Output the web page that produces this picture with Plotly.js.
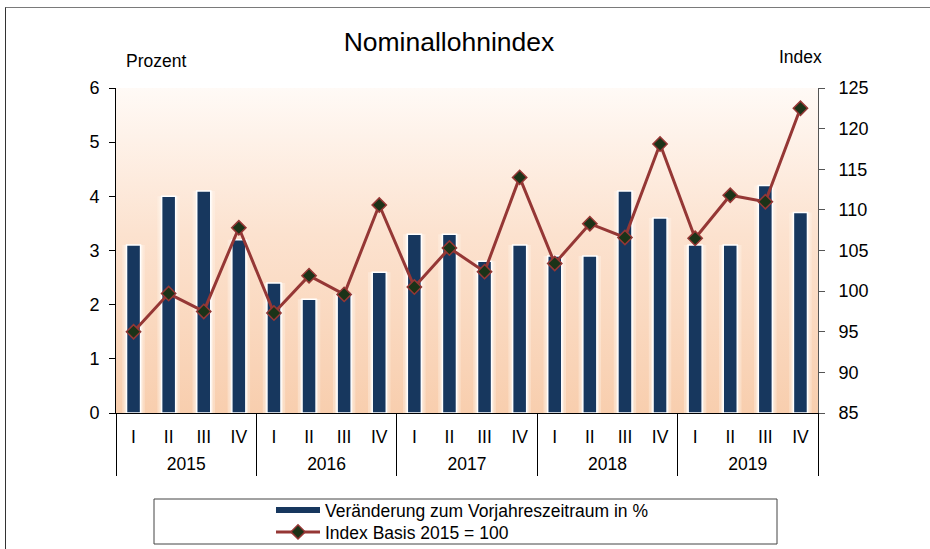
<!DOCTYPE html>
<html>
<head>
<meta charset="utf-8">
<script src="https://cdn.plot.ly/plotly-3.0.1.min.js"></script>
<style>
  html, body { margin: 0; padding: 0; background: #ffffff; overflow: hidden; }
  #wrap { position: relative; width: 930px; height: 549px; }
  #chart { position: absolute; left: 0; top: 0; width: 930px; height: 549px; }
  #frame { position: absolute; left: 5px; top: 7px; width: 1000px; height: 700px;
           border-top: 1.5px solid #7a7a7a; border-left: 1px solid #333; pointer-events: none; }
</style>
</head>
<body>
<div id="wrap">
  <div id="chart"></div>
  <div id="frame"></div>
</div>
<script>
// ---- data ----
var years = ['2015', '2016', '2017', '2018', '2019'];
var quarters = ['I', 'II', 'III', 'IV'];
var veraenderung = [3.1, 4.0, 4.1, 3.2, 2.4, 2.1, 2.2, 2.6, 3.3, 3.3, 2.8, 3.1, 2.9, 2.9, 4.1, 3.6, 3.1, 3.1, 4.2, 3.7];
var indexBasis = [95.0, 99.7, 97.5, 107.8, 97.3, 101.9, 99.6, 110.6, 100.5, 105.3, 102.4, 114.0, 103.4, 108.3, 106.6, 118.1, 106.5, 111.8, 111.0, 122.5];
var seriesNames = ['Veränderung zum Vorjahreszeitraum in %', 'Index Basis 2015 = 100'];

// category keys (year + quarter), inner tick labels, year centres and year boundaries
var xKeys = [], xInner = [], yearCenters = [], yearBounds = [-0.5];
years.forEach(function (y, g) {
  quarters.forEach(function (q) { xKeys.push(y + ' ' + q); xInner.push(q); });
  yearCenters.push(g * quarters.length + (quarters.length - 1) / 2);
  yearBounds.push((g + 1) * quarters.length - 0.5);
});
var nCat = xKeys.length;

var navy = '#17375e';
var red = '#953735';
var font = 'Arial, "Liberation Sans", sans-serif';

var traces = [
  { type: 'bar', x: xKeys, y: veraenderung, width: 0.64, marker: { color: 'rgba(255,246,238,0.35)' },
    hoverinfo: 'skip', showlegend: false },
  { type: 'bar', x: xKeys, y: veraenderung, width: 0.52, marker: { color: 'rgba(255,248,242,0.45)' },
    hoverinfo: 'skip', showlegend: false },
  { type: 'bar', x: xKeys, y: veraenderung, width: 0.4, name: seriesNames[0],
    marker: { color: navy, line: { color: '#ffffff', width: 1.5 } }, showlegend: false },
  // legend swatch for the bars (drawn as a thick line, as in the reference)
  { type: 'scatter', mode: 'lines', x: [xKeys[0]], y: [null], name: seriesNames[0],
    line: { color: navy, width: 6 }, hoverinfo: 'skip', legend: 'legend' },
  { type: 'scatter', mode: 'lines+markers', x: xKeys, y: indexBasis, yaxis: 'y2', name: seriesNames[1],
    line: { color: red, width: 3 }, legend: 'legend2',
    marker: { symbol: 'diamond', size: 11, color: '#1b3318', line: { color: red, width: 1.5 } } },
  // empty helper traces so that the year-divider and year-label axes are drawn
  { type: 'scatter', mode: 'none', x: [null], y: [null], xaxis: 'x2', showlegend: false, hoverinfo: 'skip' },
  { type: 'scatter', mode: 'none', x: [null], y: [null], xaxis: 'x3', showlegend: false, hoverinfo: 'skip' }
];

var grad = "<svg xmlns='http://www.w3.org/2000/svg' width='100' height='100' preserveAspectRatio='none'>" +
  "<defs><linearGradient id='g' x1='0' y1='0' x2='0' y2='1'>" +
  "<stop offset='0' stop-color='#fffaf6'/><stop offset='0.45' stop-color='#fce2cf'/>" +
  "<stop offset='1' stop-color='#f8ceae'/></linearGradient></defs>" +
  "<rect width='100' height='100' fill='url(#g)'/></svg>";

var legendCommon = {
  xanchor: 'left', yanchor: 'middle', bgcolor: 'rgba(0,0,0,0)', borderwidth: 0, itemwidth: 44,
  font: { family: font, size: 17.5, color: '#000' }
};
var legend1 = Object.assign({}, legendCommon, { x: (271 - 116) / 702, y: (413 - 510) / 325 });
var legend2 = Object.assign({}, legendCommon, { x: (271 - 116) / 702, y: (413 - 532) / 325 });

var xRange = [-0.5, nCat - 0.5];
var tickFont = { family: font, size: 17.5, color: '#000' };

var layout = {
  width: 930, height: 549,
  margin: { l: 116, r: 112, t: 88, b: 136, autoexpand: false },
  paper_bgcolor: 'rgba(0,0,0,0)',
  plot_bgcolor: 'rgba(0,0,0,0)',
  font: { family: font, color: '#000', size: 17 },
  barmode: 'overlay',
  title: { text: 'Nominallohnindex', font: { family: font, size: 26.5, color: '#000' },
           x: 449 / 930, xref: 'container', xanchor: 'center', y: 1 - 42 / 549, yref: 'container', yanchor: 'middle' },
  // quarter labels
  xaxis: {
    type: 'category', categoryorder: 'array', categoryarray: xKeys,
    range: xRange, autorange: false,
    tickmode: 'array', tickvals: xKeys, ticktext: xInner,
    showline: true, linecolor: '#000', linewidth: 1, ticks: '', showgrid: false,
    ticklabelstandoff: 8, tickfont: tickFont
  },
  // year group dividers
  xaxis2: {
    overlaying: 'x', anchor: 'y', side: 'bottom', type: 'linear', range: xRange, autorange: false,
    tickmode: 'array', tickvals: yearBounds, showticklabels: false,
    ticks: 'outside', ticklen: 62, tickwidth: 1, tickcolor: '#000',
    showline: true, linecolor: '#000', linewidth: 1, showgrid: false, zeroline: false
  },
  // year labels
  xaxis3: {
    overlaying: 'x', anchor: 'y', side: 'bottom', type: 'linear', range: xRange, autorange: false,
    tickmode: 'array', tickvals: yearCenters, ticktext: years, ticks: '',
    ticklabelstandoff: 38, tickfont: tickFont,
    showline: false, showgrid: false, zeroline: false
  },
  yaxis: {
    range: [0, 6], dtick: 1, showgrid: false, zeroline: false,
    showline: true, linecolor: '#000', linewidth: 1, ticks: 'outside', ticklen: 6, tickcolor: '#000',
    ticklabelstandoff: 6,
    tickfont: { family: font, size: 18, color: '#000' }
  },
  yaxis2: {
    range: [85, 125], dtick: 5, overlaying: 'y', side: 'right', showgrid: false, zeroline: false,
    showline: true, linecolor: '#555', linewidth: 1, ticks: 'outside', ticklen: 6, tickcolor: '#555',
    ticklabelstandoff: 10,
    tickfont: { family: font, size: 18, color: '#000' }
  },
  images: [{ source: 'data:image/svg+xml;charset=utf-8,' + encodeURIComponent(grad),
             xref: 'paper', yref: 'paper', x: 0, y: 1, sizex: 1, sizey: 1,
             sizing: 'stretch', xanchor: 'left', yanchor: 'top', layer: 'below' }],
  annotations: [
    { text: 'Prozent', xref: 'paper', yref: 'paper', x: (156 - 116) / 702, y: (413 - 61) / 325,
      showarrow: false, xanchor: 'center', yanchor: 'middle', font: { family: font, size: 17.5, color: '#000' } },
    { text: 'Index', xref: 'paper', yref: 'paper', x: (800 - 116) / 702, y: (413 - 57) / 325,
      showarrow: false, xanchor: 'center', yanchor: 'middle', font: { family: font, size: 17.5, color: '#000' } }
  ],
  shapes: [
    { type: 'rect', xref: 'paper', yref: 'paper', x0: (154 - 116) / 702, x1: (777 - 116) / 702,
      y0: (413 - 544) / 325, y1: (413 - 499) / 325, line: { color: '#444', width: 1 }, fillcolor: 'rgba(0,0,0,0)' }
  ],
  legend: legend1,
  legend2: legend2,
  showlegend: true
};

Plotly.newPlot('chart', traces, layout, { displayModeBar: false, staticPlot: true });
</script>
</body>
</html>
